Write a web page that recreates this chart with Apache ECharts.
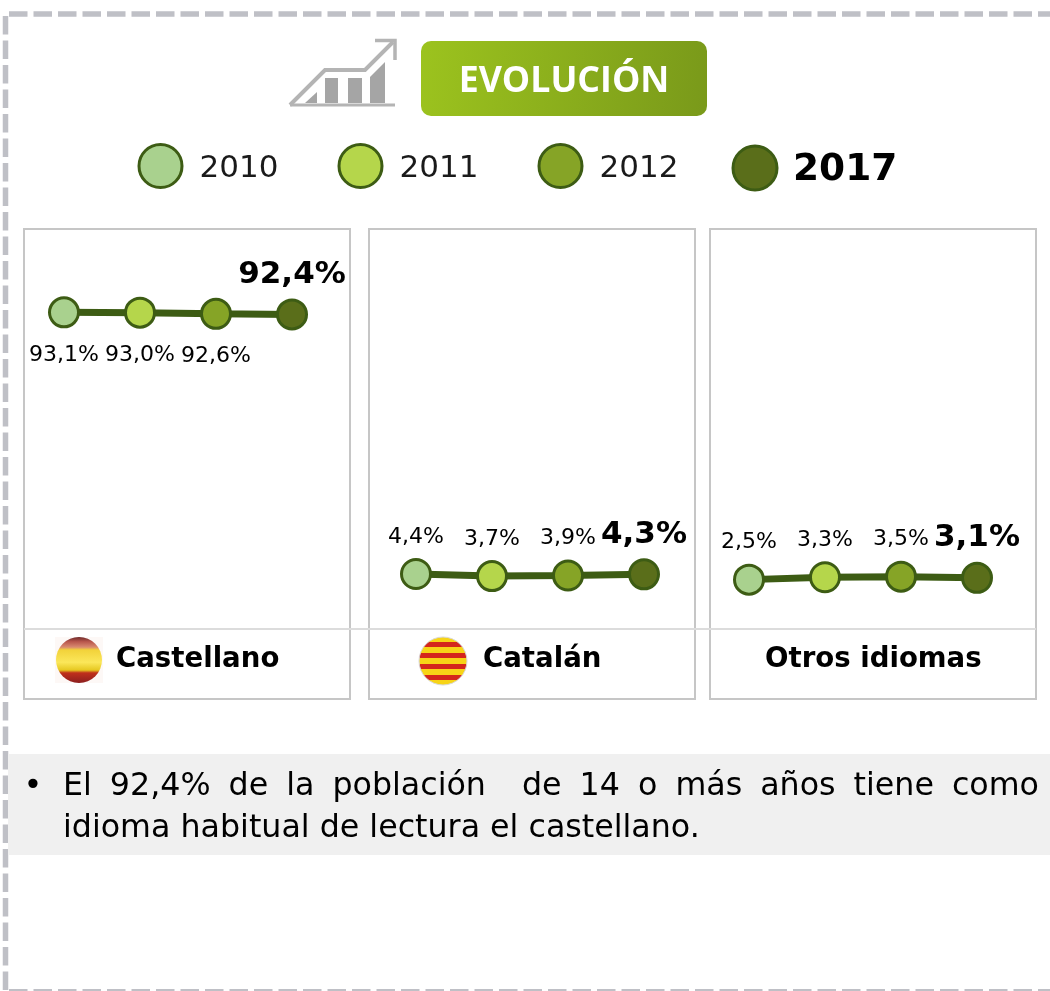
<!DOCTYPE html>
<html>
<head>
<meta charset="utf-8">
<title>Evolución</title>
<style>
    html, body { margin: 0; padding: 0; background: #fff; }
    #chart { width: 1050px; height: 991px; }
</style>
<script src="https://cdn.jsdelivr.net/npm/echarts@6/dist/echarts.min.js"></script>
</head>
<body>
<div id="chart"></div>
<script>
    var years = ['2010', '2011', '2012', '2017'];
    var yearColors = ['#a9d18e', '#b5d64b', '#86a426', '#5a6e1a'];

    var castellano = [93.1, 93.0, 92.6, 92.4];
    var catalan = [4.4, 3.7, 3.9, 4.3];
    var otros = [2.5, 3.3, 3.5, 3.1];

    var panelNames = ['Castellano', 'Catalán', 'Otros idiomas'];
    var noteLine1 = 'El 92,4% de la población  de 14 o más años tiene como';
    var noteLine2 = 'idioma habitual de lectura el castellano.';

    var FONT = '"DejaVu Sans", Verdana, sans-serif';
    var LINE_COLOR = '#3d5c14';
    var BOX_COLOR = '#c6c6c6';

    var chart = echarts.init(document.getElementById('chart'), null, { renderer: 'canvas' });

    function pct(v) {
        return v.toFixed(1).replace('.', ',') + '%';
    }

    function text(x, y, str, size, opts) {
        opts = opts || {};
        return {
            type: 'text',
            x: x,
            y: y,
            style: {
                text: str,
                font: (opts.weight || 'normal') + ' ' + size + 'px ' + (opts.family || FONT),
                fill: opts.color || '#000',
                align: opts.align || 'left',
                verticalAlign: 'middle'
            }
        };
    }

    function rect(x, y, w, h, stroke) {
        return {
            type: 'rect',
            shape: { x: x, y: y, width: w, height: h },
            style: { fill: 'none', stroke: stroke, lineWidth: 2 }
        };
    }

    function dashed(x1, y1, x2, y2, width) {
        return {
            type: 'line',
            shape: { x1: x1, y1: y1, x2: x2, y2: y2 },
            style: { stroke: '#bfc0c6', lineWidth: width, lineDash: [18.5, 6] }
        };
    }

    function iconLine(points, width) {
        return {
            type: 'polyline',
            shape: { points: points },
            style: { fill: 'none', stroke: '#b4b4b4', lineWidth: width }
        };
    }

    // stretch the words of a line to the given width, like the justified text of the original
    function justified(str, x, y, width, size) {
        var ctx = document.createElement('canvas').getContext('2d');
        ctx.font = size + 'px ' + FONT;
        var parts = str.split(' ');
        var words = parts.filter(function (w) { return w.length; });
        var total = 0;
        words.forEach(function (w) { total += ctx.measureText(w).width; });
        var gap = (width - total) / (parts.length - 1);
        var out = [];
        var cur = x;
        parts.forEach(function (w) {
            if (w.length) {
                out.push(text(cur, y, w, size));
                cur += ctx.measureText(w).width;
            }
            cur += gap;
        });
        return out;
    }

    function stripes() {
        // catalan flag: hard colour stops on a linear gradient
        var stops = [];
        var n = 9;
        for (var i = 0; i < n; i++) {
            var c = i % 2 ? '#d4261c' : '#f7d417';
            stops.push({ offset: i / n, color: c });
            stops.push({ offset: (i + 1) / n, color: c });
        }
        return { type: 'linear', x: 0, y: 0, x2: 0, y2: 1, colorStops: stops };
    }

    var graphics = [];

    // outer dashed frame
    graphics.push(dashed(5.5, 16, 5.5, 991, 5.5));
    graphics.push(dashed(9, 14, 1050, 14, 5.5));
    graphics.push(dashed(9, 990, 1050, 990, 2));

    // icon
    graphics.push(iconLine([[290, 105], [395, 105]], 3));
    graphics.push(iconLine([[290, 105], [325, 70], [365, 70], [393, 42]], 4));
    graphics.push(iconLine([[375, 40.5], [395, 40.5], [395, 60]], 3.5));
    [
        [[305, 103], [317, 92], [317, 103]],
        [[325, 78], [338, 78], [338, 103], [325, 103]],
        [[348, 78], [362, 78], [362, 103], [348, 103]],
        [[370, 77], [385, 62], [385, 103], [370, 103]]
    ].forEach(function (pts) {
        graphics.push({ type: 'polygon', shape: { points: pts }, style: { fill: '#a5a5a5' } });
    });

    // title button
    graphics.push({
        type: 'rect',
        shape: { x: 421, y: 41, width: 286, height: 75, r: 10 },
        style: {
            fill: {
                type: 'linear', x: 0, y: 0, x2: 1, y2: 0.4,
                colorStops: [{ offset: 0, color: '#9cc31e' }, { offset: 1, color: '#7a9a1a' }]
            }
        }
    });
    graphics.push(text(564, 82, 'EVOLUCIÓN', 35.7, { weight: 'bold', color: '#fff', align: 'center', family: '"Open Sans", sans-serif' }));

    // legend
    var legendX = [160.5, 360.5, 560.5, 755];
    years.forEach(function (y, i) {
        var last = i === years.length - 1;
        graphics.push({
            type: 'circle',
            shape: { cx: legendX[i], cy: last ? 168 : 166, r: last ? 22 : 21.5 },
            style: { fill: yearColors[i], stroke: LINE_COLOR, lineWidth: 3 }
        });
        graphics.push(text(last ? 793 : legendX[i] + 39, last ? 170 : 169, y, last ? 37.5 : 31, { weight: last ? 'bold' : 'normal', color: last ? '#000' : '#1a1a1a' }));
    });

    // panels
    graphics.push(rect(24, 229, 326, 470, BOX_COLOR));
    graphics.push(rect(369, 229, 326, 470, BOX_COLOR));
    graphics.push(rect(710, 229, 326, 470, BOX_COLOR));
    graphics.push({
        type: 'line',
        shape: { x1: 24, y1: 629, x2: 1036, y2: 629 },
        style: { stroke: '#dcdcdc', lineWidth: 2 }
    });
    graphics.push(text(116, 660, panelNames[0], 27.6, { weight: 'bold' }));
    graphics.push(text(483, 660, panelNames[1], 27.6, { weight: 'bold' }));
    graphics.push(text(765, 660, panelNames[2], 27.6, { weight: 'bold' }));

    // flags
    graphics.push({
        type: 'rect',
        shape: { x: 55, y: 637, width: 48, height: 46 },
        style: { fill: '#fdf8f6' }
    });
    graphics.push({
        type: 'circle',
        shape: { cx: 79, cy: 660, r: 23 },
        style: {
            fill: {
                type: 'linear', x: 0, y: 0, x2: 0, y2: 1,
                colorStops: [
                    { offset: 0, color: '#6e2a2a' },
                    { offset: 0.1, color: '#b8564c' },
                    { offset: 0.22, color: '#d98a70' },
                    { offset: 0.28, color: '#f2d23a' },
                    { offset: 0.55, color: '#fbe75a' },
                    { offset: 0.72, color: '#e6c820' },
                    { offset: 0.78, color: '#c0301c' },
                    { offset: 1, color: '#8c1f1f' }
                ]
            }
        }
    });
    graphics.push({
        type: 'circle',
        shape: { cx: 443, cy: 661, r: 24 },
        style: { fill: stripes(), stroke: '#d9d9d9', lineWidth: 1 }
    });

    // note
    graphics.push({
        type: 'rect',
        shape: { x: 8, y: 754, width: 1042, height: 101 },
        style: { fill: '#f0f0f0' }
    });
    graphics.push(text(23.5, 787, '•', 32));
    graphics = graphics.concat(justified(noteLine1, 63, 787, 976, 31.7));
    graphics.push(text(63, 829, noteLine2, 31.7));

    function panelSeries(idx, values, below) {
        return {
            type: 'line',
            xAxisIndex: idx,
            yAxisIndex: idx,
            clip: false,
            symbol: 'circle',
            symbolSize: 29,
            showSymbol: true,
            showAllSymbol: true,
            z: 5,
            animation: false,
            lineStyle: { color: LINE_COLOR, width: 7 },
            data: values.map(function (v, i) {
                var last = i === values.length - 1;
                return {
                    value: v,
                    itemStyle: { color: yearColors[i], borderColor: LINE_COLOR, borderWidth: 3 },
                    label: {
                        show: true,
                        position: (below && !last) ? 'bottom' : 'top',
                        distance: last ? 8 : (below ? 15.5 : 10),
                        fontFamily: FONT,
                        fontSize: last ? 31 : 22,
                        fontWeight: last ? 'bold' : 'normal',
                        color: '#000',
                        formatter: function (p) { return pct(p.value); }
                    }
                };
            })
        };
    }

    var plotLeft = [64, 416, 749];
    var grids = [], xAxes = [], yAxes = [];
    plotLeft.forEach(function (l, i) {
        grids.push({ left: l, top: 292, width: 228, height: 295 });
        xAxes.push({ type: 'category', gridIndex: i, data: years, boundaryGap: false, show: false });
        yAxes.push({ type: 'value', gridIndex: i, min: 0, max: 100, show: false });
    });

    chart.setOption({
        animation: false,
        backgroundColor: '#fff',
        grid: grids,
        xAxis: xAxes,
        yAxis: yAxes,
        graphic: { elements: graphics },
        series: [
            panelSeries(0, castellano, true),
            panelSeries(1, catalan, false),
            panelSeries(2, otros, false)
        ]
    });
</script>
</body>
</html>
